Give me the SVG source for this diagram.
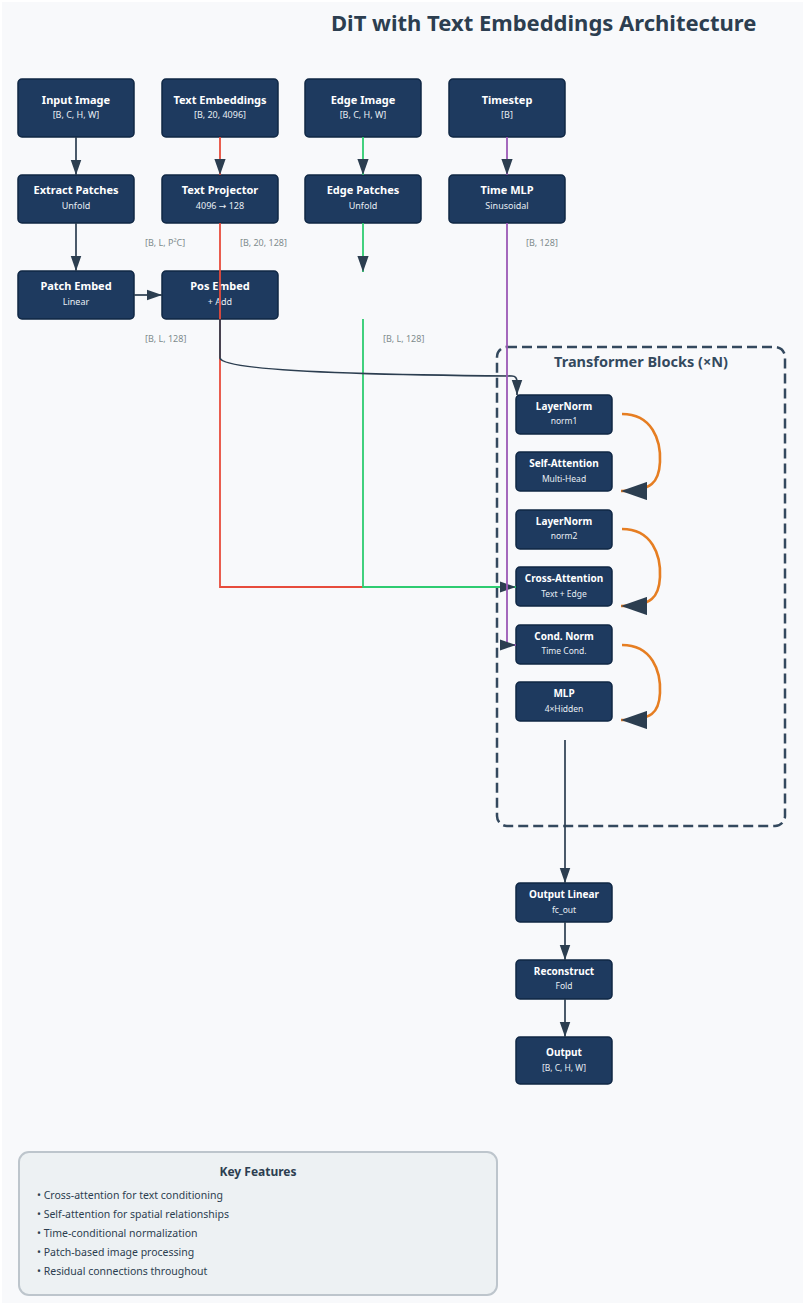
<svg xmlns="http://www.w3.org/2000/svg" width="805" height="1305" viewBox="0 0 805 1305">
<defs>
<style>
text{font-family:"Noto Sans","DejaVu Sans",sans-serif}
.node{fill:#1e3a5f;stroke:#0f2744;stroke-width:1.5}
.t{fill:#ffffff;font-weight:bold;font-size:11px;text-anchor:middle}
.s{fill:#e8eef4;font-size:9px;text-anchor:middle}
.ti{fill:#ffffff;font-weight:bold;font-size:10px;text-anchor:middle}
.si{fill:#e8eef4;font-size:8.5px;text-anchor:middle}
.lbl{fill:#7f8c8d;font-size:9px}
.dark{fill:none;stroke:#2c3e50;stroke-width:1.7}
.red{fill:none;stroke:#e74c3c;stroke-width:1.8}
.green{fill:none;stroke:#2ecc71;stroke-width:1.8}
.purple{fill:none;stroke:#9b59b6;stroke-width:1.8}
.orange{fill:none;stroke:#e67e22;stroke-width:2.6}
.feat{fill:#2c3e50;font-size:10.5px}
</style>
<marker id="arr" viewBox="0 0 10 7" refX="10" refY="3.5" markerWidth="9" markerHeight="6.8" orient="auto" markerUnits="strokeWidth">
<polygon points="0 0,10 3.5,0 7" fill="#2c3e50"/>
</marker>
<marker id="arrO" viewBox="0 0 10 7" refX="10" refY="3.5" markerWidth="10" markerHeight="7" orient="auto" markerUnits="strokeWidth">
<polygon points="0 0,10 3.5,0 7" fill="#2c3e50"/>
</marker>
</defs>
<rect x="0" y="0" width="805" height="1305" fill="#ffffff"/>
<rect x="2" y="2" width="801" height="1301" fill="#f8f9fb"/>
<text x="331" y="31" font-size="22" font-weight="bold" fill="#2c3e50">DiT with Text Embeddings Architecture</text>

<g id="transformer-box">
<rect x="497" y="347" width="288" height="479" rx="10" fill="none" stroke="#34495e" stroke-width="2.5" stroke-dasharray="10,5"/>
<text x="641" y="367" font-size="14.5" font-weight="bold" fill="#34495e" text-anchor="middle">Transformer Blocks (×N)</text>
</g>

<g id="labels">
<text class="lbl" x="145" y="246">[B, L, P²C]</text>
<text class="lbl" x="240" y="246">[B, 20, 128]</text>
<text class="lbl" x="526" y="246">[B, 128]</text>
<text class="lbl" x="145" y="342">[B, L, 128]</text>
<text class="lbl" x="383" y="342">[B, L, 128]</text>
</g>

<g id="nodes-top">
<g id="input-image"><rect class="node" x="18" y="79" width="116" height="58" rx="4"/><text class="t" x="76" y="104">Input Image</text><text class="s" x="76" y="118">[B, C, H, W]</text></g>
<g id="text-embeddings"><rect class="node" x="162" y="79" width="116" height="58" rx="4"/><text class="t" x="220" y="104">Text Embeddings</text><text class="s" x="220" y="118">[B, 20, 4096]</text></g>
<g id="edge-image"><rect class="node" x="305" y="79" width="116" height="58" rx="4"/><text class="t" x="363" y="104">Edge Image</text><text class="s" x="363" y="118">[B, C, H, W]</text></g>
<g id="timestep"><rect class="node" x="449" y="79" width="116" height="58" rx="4"/><text class="t" x="507" y="104">Timestep</text><text class="s" x="507" y="118">[B]</text></g>
<g id="extract-patches"><rect class="node" x="18" y="175" width="116" height="48" rx="4"/><text class="t" x="76" y="194">Extract Patches</text><text class="s" x="76" y="209">Unfold</text></g>
<g id="text-projector"><rect class="node" x="162" y="175" width="116" height="48" rx="4"/><text class="t" x="220" y="194">Text Projector</text><text class="s" x="220" y="209">4096 → 128</text></g>
<g id="edge-patches"><rect class="node" x="305" y="175" width="116" height="48" rx="4"/><text class="t" x="363" y="194">Edge Patches</text><text class="s" x="363" y="209">Unfold</text></g>
<g id="time-mlp"><rect class="node" x="449" y="175" width="116" height="48" rx="4"/><text class="t" x="507" y="194">Time MLP</text><text class="s" x="507" y="209">Sinusoidal</text></g>
<g id="patch-embed"><rect class="node" x="18" y="271" width="116" height="48" rx="4"/><text class="t" x="76" y="290">Patch Embed</text><text class="s" x="76" y="305">Linear</text></g>
<g id="pos-embed"><rect class="node" x="162" y="271" width="116" height="48" rx="4"/><text class="t" x="220" y="290">Pos Embed</text><text class="s" x="220" y="305">+ Add</text></g>
</g>

<g id="nodes-inner">
<g id="layernorm1"><rect class="node" x="516" y="395" width="96" height="39" rx="4"/><text class="ti" x="564" y="410">LayerNorm</text><text class="si" x="564" y="424">norm1</text></g>
<g id="self-attention"><rect class="node" x="516" y="452" width="96" height="39" rx="4"/><text class="ti" x="564" y="467">Self-Attention</text><text class="si" x="564" y="482">Multi-Head</text></g>
<g id="layernorm2"><rect class="node" x="516" y="510" width="96" height="39" rx="4"/><text class="ti" x="564" y="525">LayerNorm</text><text class="si" x="564" y="539">norm2</text></g>
<g id="cross-attention"><rect class="node" x="516" y="567" width="96" height="39" rx="4"/><text class="ti" x="564" y="582">Cross-Attention</text><text class="si" x="564" y="597">Text + Edge</text></g>
<g id="cond-norm"><rect class="node" x="516" y="625" width="96" height="39" rx="4"/><text class="ti" x="564" y="640">Cond. Norm</text><text class="si" x="564" y="654">Time Cond.</text></g>
<g id="mlp"><rect class="node" x="516" y="682" width="96" height="39" rx="4"/><text class="ti" x="564" y="697">MLP</text><text class="si" x="564" y="712">4×Hidden</text></g>
</g>

<g id="nodes-output">
<g id="output-linear"><rect class="node" x="516" y="883" width="96" height="39" rx="4"/><text class="ti" x="564" y="898">Output Linear</text><text class="si" x="564" y="913">fc_out</text></g>
<g id="reconstruct"><rect class="node" x="516" y="960" width="96" height="39" rx="4"/><text class="ti" x="564" y="975">Reconstruct</text><text class="si" x="564" y="989">Fold</text></g>
<g id="output"><rect class="node" x="516" y="1037" width="96" height="47" rx="4"/><text class="ti" x="564" y="1056">Output</text><text class="si" x="564" y="1071">[B, C, H, W]</text></g>
</g>

<g id="connectors">
<path class="dark" d="M76,137 V175" marker-end="url(#arr)"/>
<path class="dark" d="M76,223 V271" marker-end="url(#arr)"/>
<path class="dark" d="M134,295 H162" marker-end="url(#arr)"/>
<path class="red" d="M220,137 V175" marker-end="url(#arr)"/>
<path class="green" d="M363,137 V175" marker-end="url(#arr)"/>
<path class="purple" d="M507,137 V175" marker-end="url(#arr)"/>
<path class="green" d="M363,223 V272" marker-end="url(#arr)"/>
<path class="red" d="M220,223 V587 H363"/>
<path class="green" d="M363,319 V587 H516" marker-end="url(#arr)"/>
<path class="dark" d="M220,319 V358 C222,371 370,375 512,376 Q517,376 517,382 V395" marker-end="url(#arr)"/>
<path class="purple" d="M507,223 V645 H516" marker-end="url(#arr)"/>
<path class="orange" d="M622,414 C652,414 661,440 660,462 C659,482 652,491 621,491" marker-end="url(#arrO)"/>
<path class="orange" d="M622,529 C652,529 661,555 660,577 C659,597 652,606 621,606" marker-end="url(#arrO)"/>
<path class="orange" d="M622,645 C652,645 661,671 660,693 C659,713 652,720 621,720" marker-end="url(#arrO)"/>
<path class="dark" d="M565,740 V883" marker-end="url(#arr)"/>
<path class="dark" d="M565,922 V960" marker-end="url(#arr)"/>
<path class="dark" d="M565,999 V1037" marker-end="url(#arr)"/>
</g>

<g id="key-features">
<rect x="19" y="1152" width="478" height="143" rx="10" fill="#edf1f3" stroke="#bdc5cc" stroke-width="2"/>
<text x="258" y="1176" font-size="12" font-weight="bold" fill="#2c3e50" text-anchor="middle">Key Features</text>
<text class="feat" x="37" y="1199">• Cross-attention for text conditioning</text>
<text class="feat" x="37" y="1218">• Self-attention for spatial relationships</text>
<text class="feat" x="37" y="1237">• Time-conditional normalization</text>
<text class="feat" x="37" y="1256">• Patch-based image processing</text>
<text class="feat" x="37" y="1275">• Residual connections throughout</text>
</g>
</svg>
